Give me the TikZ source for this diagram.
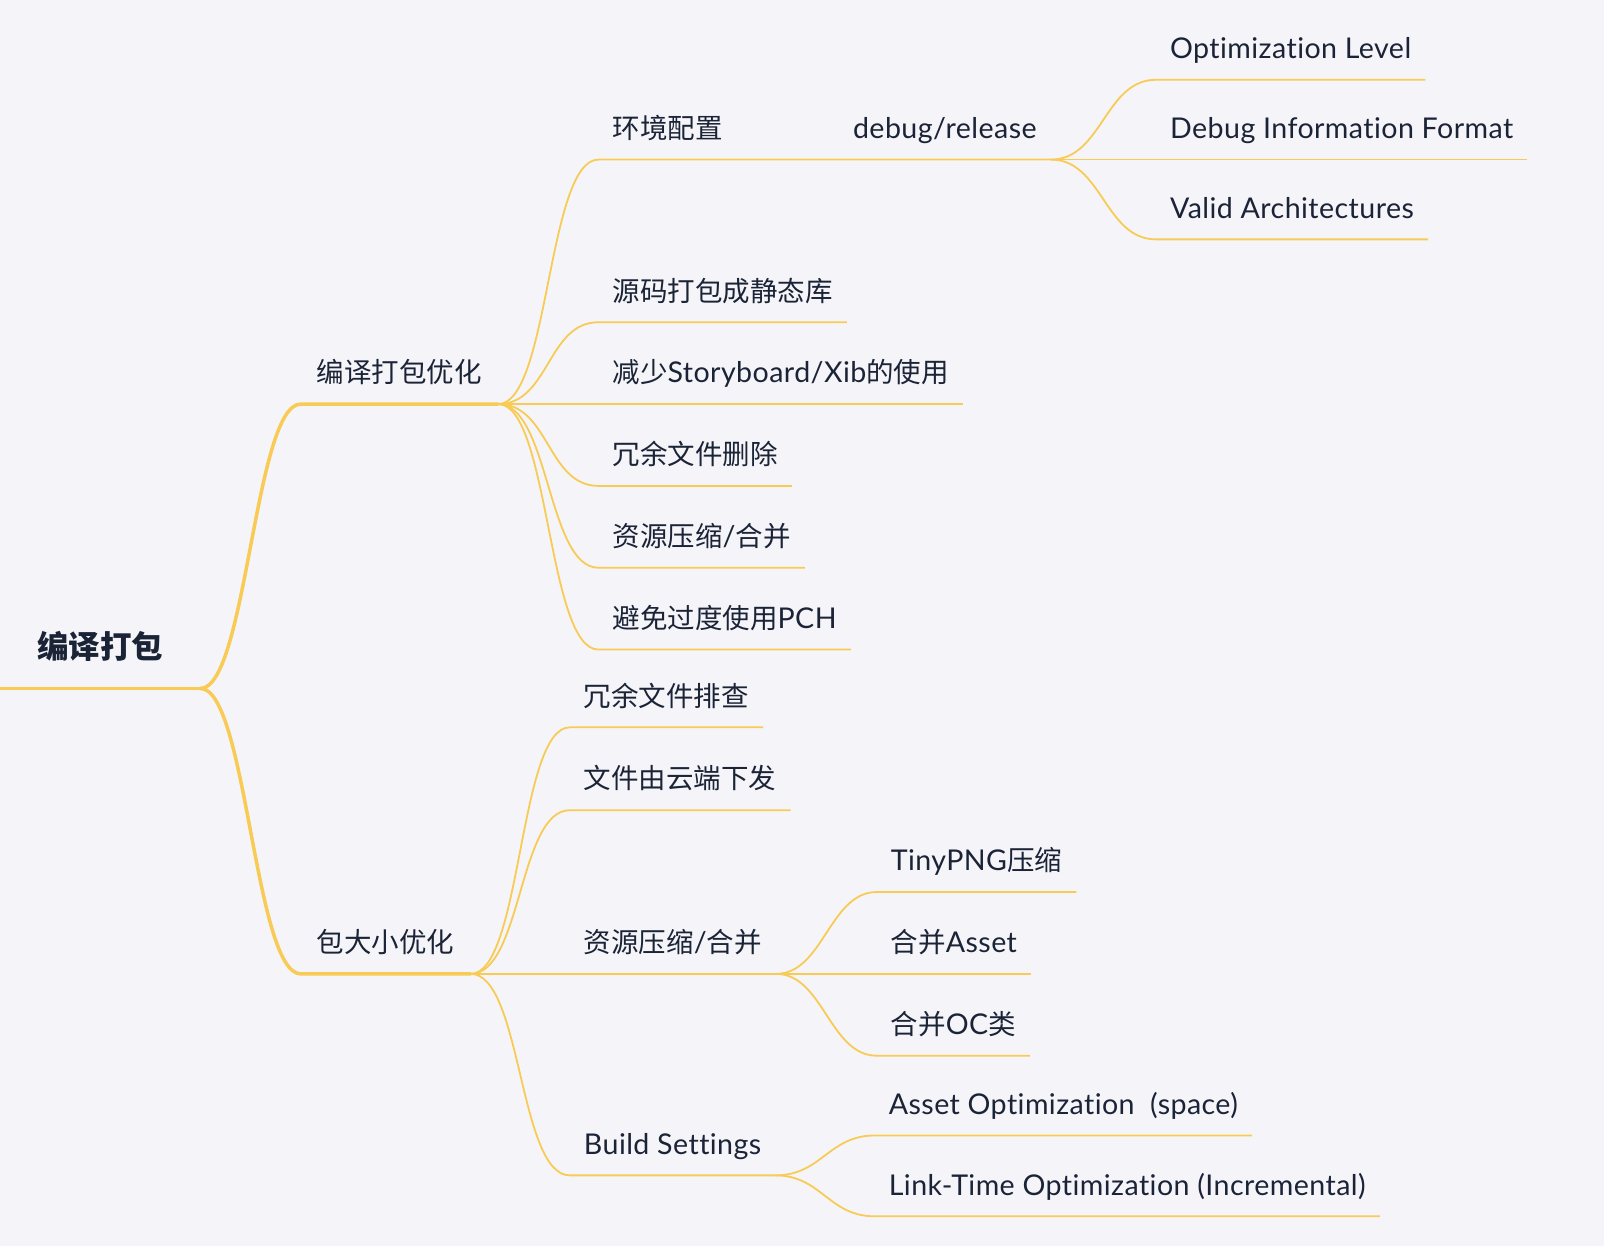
\documentclass[tikz,border=0pt]{standalone}
\usepackage{fontspec}
\setmainfont{Lato}[Ligatures=NoCommon, Scale=1.04, LetterSpace=1.5]
\newfontfamily\cjk{Noto Sans CJK SC}
\usepackage{tikz}
\usetikzlibrary{positioning}
\definecolor{paper}{HTML}{F5F5F9}
\definecolor{ink}{HTML}{1B2437}
\definecolor{gold}{HTML}{F7CB55}
\tikzstyle{topic} = [anchor=south west, inner xsep=14pt, inner ysep=21pt, text height=20pt, text depth=0pt, text=ink, font=\fontsize{27.5}{30}\selectfont]
\tikzstyle{main} = [topic, inner xsep=16pt]
\tikzstyle{rootnode} = [topic, inner xsep=37pt, inner ysep=30pt, font=\fontsize{31.5}{34}\selectfont\bfseries]
\tikzstyle{thickline} = [draw=gold, line width=3.5pt, line cap=round]
\tikzstyle{twig} = [draw=gold, line width=1.8pt]

\begin{document}
\begin{tikzpicture}[x=1.023pt, y=-1.023pt]
\useasboundingbox (0,0) rectangle (1568,1218);
\fill[paper] (0,0) rectangle (1568,1218);

% root and main branches
\node (root) [rootnode] at (0,673) {\cjk 编译打包};
\node (build) [main] at (294,395) {\cjk 编译打包优化};
\node (size) [main] at (294,952) {\cjk 包大小优化};

% first branch
\node (env) [topic] at (585,156) {\cjk 环境配置};
\node (mode) [topic] at (820,156) {debug/release};
\node (olevel) [topic] at (1130,78) {Optimization Level};
\node (dformat) [topic] at (1130,156) {Debug Information Format};
\node (varch) [topic] at (1130,234) {Valid Architectures};
\node (staticlib) [topic] at (585,315) {\cjk 源码打包成静态库};
\node (xib) [topic] at (585,395) {{\cjk 减少}Storyboard/Xib{\cjk 的使用}};
\node (delfiles) [topic] at (585,475) {\cjk 冗余文件删除};
\node (res) [topic] at (585,555) {{\cjk 资源压缩}/{\cjk 合并}};
\node (pch) [topic] at (585,635) {{\cjk 避免过度使用}PCH};

% second branch
\node (check) [topic] at (557,711) {\cjk 冗余文件排查};
\node (cloud) [topic] at (557,792) {\cjk 文件由云端下发};
\node (res2) [topic] at (557,952) {{\cjk 资源压缩}/{\cjk 合并}};
\node (tiny) [topic] at (857,872) {TinyPNG{\cjk 压缩}};
\node (asset) [topic] at (857,952) {{\cjk 合并}Asset};
\node (occls) [topic] at (857,1032) {{\cjk 合并}OC{\cjk 类}};
\node (bset) [topic] at (557,1149) {Build Settings};
\node (aopt) [topic] at (855,1110) {Asset Optimization~ (space)};
\node (lto) [topic] at (855,1189) {Link-Time Optimization (Incremental)};

\draw [thickline] (root.south west) -- (root.south east);
\draw [thickline] (root.south east) .. controls +(45,0) and +(-45,0) .. (build.south west) -- (build.south east);
\draw [thickline] (root.south east) .. controls +(45,0) and +(-45,0) .. (size.south west) -- (size.south east);

\draw [twig] (build.south east) .. controls +(50,0) and +(-50,0) .. (env.south west) -- (env.south east) -- (mode.south west) -- (mode.south east);
\draw [twig] (mode.south east) .. controls +(50,0) and +(-50,0) .. (olevel.south west) -- (olevel.south east);
\draw [twig] (mode.south east) -- (dformat.south west) -- (dformat.south east);
\draw [twig] (mode.south east) .. controls +(50,0) and +(-50,0) .. (varch.south west) -- (varch.south east);
\draw [twig] (build.south east) .. controls +(50,0) and +(-50,0) .. (staticlib.south west) -- (staticlib.south east);
\draw [twig] (build.south east) -- (xib.south west) -- (xib.south east);
\draw [twig] (build.south east) .. controls +(50,0) and +(-50,0) .. (delfiles.south west) -- (delfiles.south east);
\draw [twig] (build.south east) .. controls +(50,0) and +(-50,0) .. (res.south west) -- (res.south east);
\draw [twig] (build.south east) .. controls +(50,0) and +(-50,0) .. (pch.south west) -- (pch.south east);

\draw [twig] (size.south east) .. controls +(50,0) and +(-50,0) .. (check.south west) -- (check.south east);
\draw [twig] (size.south east) .. controls +(50,0) and +(-50,0) .. (cloud.south west) -- (cloud.south east);
\draw [twig] (size.south east) -- (res2.south west) -- (res2.south east);
\draw [twig] (res2.south east) .. controls +(46,0) and +(-46,0) .. (tiny.south west) -- (tiny.south east);
\draw [twig] (res2.south east) -- (asset.south west) -- (asset.south east);
\draw [twig] (res2.south east) .. controls +(46,0) and +(-46,0) .. (occls.south west) -- (occls.south east);
\draw [twig] (size.south east) .. controls +(50,0) and +(-50,0) .. (bset.south west) -- (bset.south east);
\draw [twig] (bset.south east) .. controls +(45,0) and +(-45,0) .. (aopt.south west) -- (aopt.south east);
\draw [twig] (bset.south east) .. controls +(45,0) and +(-45,0) .. (lto.south west) -- (lto.south east);

\end{tikzpicture}
\end{document}
